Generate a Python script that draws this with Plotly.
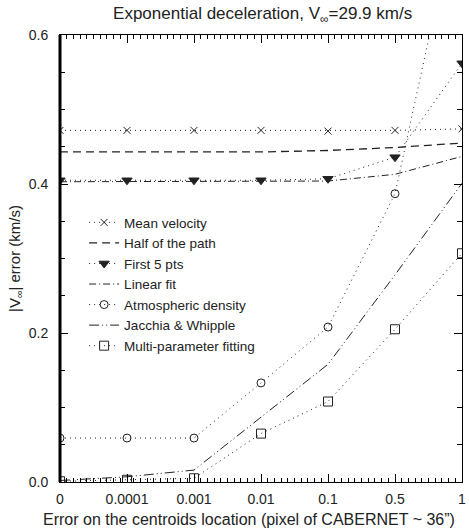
import plotly.graph_objects as go

# Categories on the x axis (evenly spaced positions)
x_labels = ["0", "0.0001", "0.001", "0.01", "0.1", "0.5", "1"]
x_pos = list(range(len(x_labels)))

# |V_inf| error (km/s) for each method
mean_velocity = [0.472, 0.472, 0.472, 0.472, 0.471, 0.472, 0.474]
half_path = [0.443, 0.443, 0.443, 0.443, 0.445, 0.449, 0.455]
first_5_pts = [0.405, 0.405, 0.405, 0.405, 0.407, 0.436, 0.562]
linear_fit = [0.403, 0.403, 0.403, 0.403, 0.404, 0.413, 0.437]
atmospheric = [0.059, 0.059, 0.059, 0.133, 0.208, 0.387, 0.80]
jacchia = [0.002, 0.007, 0.016, 0.087, 0.158, 0.278, 0.401]
multi_param = [0.001, 0.003, 0.005, 0.065, 0.108, 0.205, 0.307]

INK = "#222222"
DOT = "1px,4px"

fig = go.Figure()

def add(name, y, dash, symbol=None, size=8, lw=1.0):
    mode = "lines+markers" if symbol else "lines"
    kw = {}
    if symbol:
        kw["marker"] = dict(symbol=symbol, size=size, color=INK,
                            line=dict(color=INK, width=1))
    fig.add_trace(go.Scatter(x=x_pos, y=y, name=name, mode=mode,
                             line=dict(color=INK, width=lw, dash=dash), **kw))

add("Mean velocity", mean_velocity, DOT, "x-thin-open", 7)
add("Half of the path", half_path, "8px,5px", lw=1.3)
add("First 5 pts", first_5_pts, DOT, "triangle-down", 9)
add("Linear fit", linear_fit, "7px,3px,1px,3px")
add("Atmospheric density", atmospheric, DOT, "circle-open", 8)
add("Jacchia & Whipple", jacchia, "10px,3px,1px,3px,1px,3px")
add("Multi-parameter fitting", multi_param, DOT, "square-open", 9)

font = "Liberation Sans, Arial, sans-serif"

fig.update_layout(
    width=469, height=528,
    margin=dict(l=60, r=3, t=35, b=46),
    paper_bgcolor="white", plot_bgcolor="white",
    font=dict(family=font, size=14, color="#222222"),
    title=dict(text="Exponential deceleration, V<sub>∞</sub>=29.9 km/s",
               x=0.56, xanchor="center", y=0.975, yanchor="middle",
               font=dict(size=17)),
    showlegend=True,
    legend=dict(x=0.06, y=0.615, xanchor="left", yanchor="top",
                bgcolor="rgba(0,0,0,0)", font=dict(size=13.5),
                itemwidth=30, tracegroupgap=0),
)

fig.update_xaxes(
    range=[0, 6], tickmode="array", tickvals=x_pos, ticktext=x_labels,
    ticks="inside", ticklen=8, tickwidth=1, tickcolor="black",
    showline=True, linecolor="black", linewidth=1, mirror="ticks",
    showgrid=False, zeroline=False,
    minor=dict(tickmode="linear", tick0=0, dtick=0.1, ticks="inside",
               ticklen=4, tickcolor="black", showgrid=False),
    ticklabelstandoff=4, ticklabeloverflow="allow",
)

fig.update_yaxes(
    range=[0, 0.6], tickmode="linear", tick0=0, dtick=0.2, tickformat=".1f",
    ticks="inside", ticklen=8, tickwidth=1, tickcolor="black",
    showline=True, linecolor="black", linewidth=1, mirror="ticks",
    showgrid=False, zeroline=False,
    minor=dict(tickmode="linear", tick0=0, dtick=0.05, ticks="inside",
               ticklen=5, tickcolor="black", showgrid=False),
    title=dict(text="|V<sub>∞</sub>| error (km/s)", font=dict(size=15), standoff=4),
    ticklabelstandoff=8,
)

# x-axis caption
fig.add_annotation(text="Error on the centroids location (pixel of CABERNET ~ 36”)",
                   xref="paper", yref="paper", x=0.47, y=-0.085,
                   xanchor="center", yanchor="middle", showarrow=False,
                   font=dict(size=16))

# heavier left spine
fig.add_shape(type="line", xref="paper", yref="paper", x0=0, x1=0, y0=0, y1=1,
              line=dict(color="black", width=3))

fig.write_html("out.html")
